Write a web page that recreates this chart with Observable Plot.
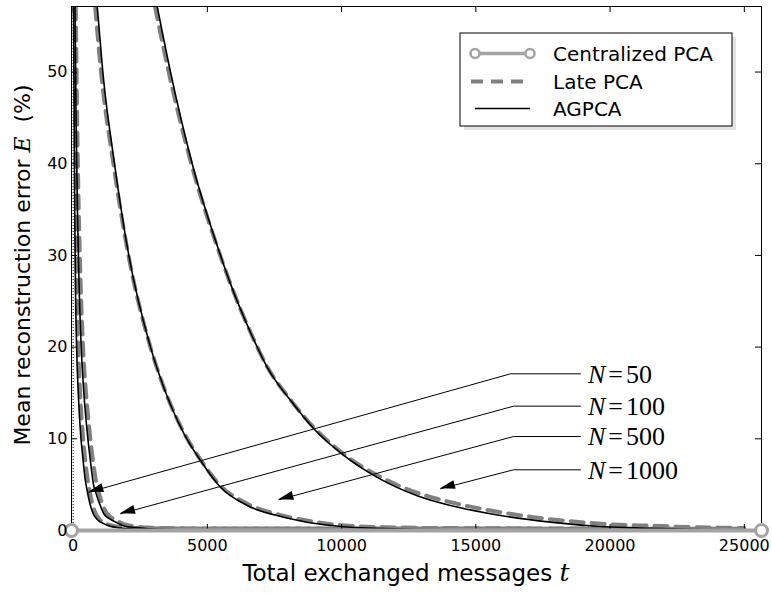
<!DOCTYPE html>
<html><head><meta charset="utf-8">
<script src="https://cdn.jsdelivr.net/npm/d3@7"></script>
<script src="https://cdn.jsdelivr.net/npm/@observablehq/plot@0.6"></script>
<style>body{margin:0;background:#fff;} svg{display:block}</style>
</head><body><div id="chart"></div>
<script>
// ---- axes ----
const xTicks = [0, 5000, 10000, 15000, 20000, 25000];
const yTicks = [0, 10, 20, 30, 40, 50];
const xDomain = [-60, 25640];
const yDomain = [0, 57.15];

// ---- series: [t, E] ----
const agpcaN50 = [[15,57.15],[40,45],[60,35],[90,26],[130,20],[200,14.5],[280,10.5],[360,8],[440,5.8],[520,4.4],[620,3.0],[740,1.9],[900,1.2],[1100,0.8],[1400,0.45],[1700,0.3],[2100,0.18],[2800,0.08],[4000,0.03],[25000,0.0]];
const agpcaN100 = [[70,57.15],[110,45],[160,35],[220,27],[300,20],[400,15],[500,11.5],[580,9.2],[660,7.2],[760,5.0],[870,3.9],[1000,2.8],[1150,1.8],[1350,1.3],[1600,0.9],[1900,0.5],[2300,0.32],[2700,0.22],[3500,0.1],[5000,0.04],[25000,0.0]];
const agpcaN500 = [[898,57.15],[1106,50],[1542,40],[2075,30],[2883,20],[3378,15.6],[4123,10.6],[4745,7.63],[5490,4.72],[6485,2.73],[7848,1.45],[9092,0.73],[10332,0.36],[11561,0.22],[14057,0.08],[25000,0.0]];
const agpcaN1000 = [[3132,57.15],[3628,50],[4436,40],[5490,30],[5863,26.9],[6608,21.6],[7230,17.8],[8098,14.2],[8965,11.1],[10083,8.2],[11327,5.8],[12817,3.8],[14057,2.73],[15919,1.64],[17781,0.91],[19644,0.44],[20873,0.29],[23368,0.11],[25000,0.04]];

const lateN50 = [[60,57.15],[80,45],[105,35],[140,26],[190,20],[270,14.5],[360,10.5],[440,8],[530,5.8],[610,4.4],[710,3.0],[830,1.9],[990,1.2],[1200,0.8],[1500,0.5],[1800,0.38],[2200,0.3],[2900,0.25],[4000,0.22],[25000,0.2]];
const lateN100 = [[100,57.15],[150,45],[210,35],[280,27],[370,20],[480,15],[590,11.5],[670,9.2],[760,7.2],[860,5.3],[970,4.0],[1100,2.8],[1250,1.9],[1450,1.35],[1700,0.95],[2000,0.6],[2400,0.42],[2800,0.32],[3600,0.26],[5000,0.22],[25000,0.2]];
const lateN500 = [[820,57.15],[1040,50],[1500,40],[2060,30],[2880,20],[3380,15.6],[4120,10.7],[4750,7.7],[5500,4.85],[6500,2.9],[7850,1.6],[9100,0.9],[10350,0.5],[11600,0.36],[14000,0.26],[18000,0.22],[25000,0.2]];
const lateN1000 = [[3050,57.15],[3560,50],[4400,40],[5480,30],[5860,26.9],[6610,21.6],[7240,17.8],[8110,14.2],[8980,11.2],[10100,8.3],[11340,6.0],[12830,4.1],[14057,3.09],[15547,2.18],[17148,1.45],[18527,1.01],[20128,0.65],[21618,0.51],[23108,0.36],[24598,0.29],[25000,0.27]];

const centralized = [[-60,0],[25640,0]];

// ---- annotations ----
const annotN = ["50", "100", "500", "1000"];
const annotLevel = [17.09, 13.56, 10.25, 6.62];
const annotElbowX = [16292, 16403, 16403, 16403];
const annotTipX = [585, 1765, 7662, 13684];
const annotTipY = [4.18, 1.82, 3.35, 4.55];
const annotLineEndX = 18898;
const annotTextX = 19197;

const legendItems = ["Centralized PCA", "Late PCA", "AGPCA"];

// ---- build tables ----
const toRows = (arr, N) => arr.map(([t, E]) => ({N, t, E}));
const agpcaRows = [...toRows(agpcaN50,50), ...toRows(agpcaN100,100), ...toRows(agpcaN500,500), ...toRows(agpcaN1000,1000)];
const lateRows = [...toRows(lateN50,50), ...toRows(lateN100,100), ...toRows(lateN500,500), ...toRows(lateN1000,1000)];
const centralRows = toRows(centralized, 0);
const annotRows = annotN.flatMap((n, i) => [
  {n, x: annotLineEndX, y: annotLevel[i]},
  {n, x: annotElbowX[i], y: annotLevel[i]},
  {n, x: annotTipX[i], y: annotTipY[i]}
]);

const CENT = "#a3a3a3", LATE = "#808080";

function arrowHeads(index, scales) {
  const g = d3.create("svg:g");
  annotN.forEach((n, i) => {
    const x1 = scales.x(annotElbowX[i]), y1 = scales.y(annotLevel[i]);
    const x2 = scales.x(annotTipX[i]), y2 = scales.y(annotTipY[i]);
    const a = Math.atan2(y2 - y1, x2 - x1);
    const L = 15, W = 4.5;
    const bx = x2 - L * Math.cos(a), by = y2 - L * Math.sin(a);
    const pts = [[x2, y2], [bx - W * Math.sin(a), by + W * Math.cos(a)], [bx + W * Math.sin(a), by - W * Math.cos(a)]];
    g.append("polygon").attr("points", pts.map(p => p.join(",")).join(" ")).attr("fill", "#000");
  });
  return g.node();
}

function annotText(index, scales) {
  const g = d3.create("svg:g").attr("font-family", "'Liberation Serif', serif").attr("font-size", 26).attr("text-anchor", "start");
  annotN.forEach((n, i) => {
    const t = g.append("text").attr("x", scales.x(annotTextX)).attr("y", scales.y(annotLevel[i])).attr("dy", "0.36em").attr("fill", "#000").attr("text-anchor", "start");
    t.append("tspan").attr("font-style", "italic").text("N");
    t.append("tspan").attr("dx", 3).text("=");
    t.append("tspan").attr("dx", 3).text(n);
  });
  return g.node();
}

function legend(index, scales, values, dims) {
  const g = d3.create("svg:g").attr("text-anchor", "start");
  const right = dims.width - dims.marginRight;
  const bx = right - 301, by = dims.marginTop + 27, bw = 272, bh = 93;
  g.append("rect").attr("x", bx + 4).attr("y", by + 4).attr("width", bw).attr("height", bh).attr("fill", "#e3e3e3");
  g.append("rect").attr("x", bx).attr("y", by).attr("width", bw).attr("height", bh).attr("fill", "#fff").attr("stroke", "#000").attr("stroke-width", 1);
  const rows = [20.5, 48.5, 75.5];
  const sx1 = bx + 15, sx2 = bx + 70;
  g.append("line").attr("x1", sx1).attr("x2", sx2).attr("y1", by + rows[0]).attr("y2", by + rows[0]).attr("stroke", CENT).attr("stroke-width", 3.5);
  [sx1, sx2].forEach(cx => g.append("circle").attr("cx", cx).attr("cy", by + rows[0]).attr("r", 4.5).attr("fill", "#fff").attr("stroke", CENT).attr("stroke-width", 2.5));
  g.append("line").attr("x1", sx1 - 4).attr("x2", sx2).attr("y1", by + rows[1]).attr("y2", by + rows[1]).attr("stroke", LATE).attr("stroke-width", 4).attr("stroke-dasharray", "12,8");
  g.append("line").attr("x1", sx1).attr("x2", sx2).attr("y1", by + rows[2]).attr("y2", by + rows[2]).attr("stroke", "#000").attr("stroke-width", 1.6);
  legendItems.forEach((s, i) => {
    g.append("text").attr("x", bx + 93).attr("y", by + rows[i]).attr("dy", "0.35em").attr("text-anchor", "start")
      .attr("font-family", "'DejaVu Sans', sans-serif").attr("font-size", 20).attr("fill", "#000").text(s);
  });
  return g.node();
}

function axisLabels(index, scales, values, dims) {
  const g = d3.create("svg:g").attr("font-family", "'DejaVu Sans', sans-serif").attr("font-size", 22).attr("fill", "#000").style("white-space", "pre");
  const fx = dims.marginLeft + (dims.width - dims.marginLeft - dims.marginRight) / 2;
  const fy = dims.marginTop + (dims.height - dims.marginTop - dims.marginBottom) / 2;
  const xl = g.append("text").attr("x", fx - 10).attr("y", dims.height - 13).attr("text-anchor", "middle").attr("font-size", 23);
  xl.append("tspan").text("Total exchanged messages ");
  xl.append("tspan").attr("font-family", "'DejaVu Serif', serif").attr("font-style", "italic").attr("font-size", 25).text("t");
  const yl = g.append("text").attr("transform", `translate(30,${fy - 3}) rotate(-90)`).attr("text-anchor", "middle");
  yl.append("tspan").text("Mean reconstruction error ");
  yl.append("tspan").attr("font-family", "'DejaVu Serif', serif").attr("font-style", "italic").text("E");
  yl.append("tspan").text("  (%)");
  return g.node();
}

const chart = Plot.plot({
  width: 772, height: 594,
  marginLeft: 71, marginRight: 11, marginTop: 6, marginBottom: 64,
  x: {domain: xDomain},
  y: {domain: yDomain},
  style: {fontFamily: "'DejaVu Sans', sans-serif", fontSize: "16px", color: "#000", background: "#fff", overflow: "visible"},
  marks: [
    Plot.ruleX([0], {stroke: "#000", strokeWidth: 1, strokeDasharray: "1,2"}),
    Plot.line(lateRows, {x: "t", y: "E", z: "N", stroke: LATE, strokeWidth: 4, strokeDasharray: "13,8", curve: "monotone-x", clip: true}),
    Plot.line(agpcaRows, {x: "t", y: "E", z: "N", stroke: "#000", strokeWidth: 1.6, curve: "monotone-x", clip: true}),
    Plot.line(annotRows, {x: "x", y: "y", z: "n", stroke: "#000", strokeWidth: 1}),
    arrowHeads,
    annotText,
    Plot.frame({stroke: "#000", strokeWidth: 1}),
    Plot.tickX(xTicks, {x: d => d, insetTop: 518, stroke: "#000"}),
    Plot.tickX(xTicks, {x: d => d, insetBottom: 518, stroke: "#000"}),
    Plot.tickY(yTicks, {y: d => d, insetRight: 684, stroke: "#000"}),
    Plot.tickY(yTicks, {y: d => d, insetLeft: 684, stroke: "#000"}),
    Plot.line(centralRows, {x: "t", y: "E", stroke: CENT, strokeWidth: 4}),
    Plot.dot(centralRows, {x: "t", y: "E", r: 6, fill: "#fff", stroke: CENT, strokeWidth: 3}),
    Plot.axisX({ticks: xTicks, tickSize: 0, tickPadding: 9, tickFormat: d => String(d), label: null, fontSize: 16}),
    Plot.axisY({ticks: yTicks, tickSize: 0, tickPadding: 4, tickFormat: d => String(d), label: null, fontSize: 16}),
    legend,
    axisLabels
  ]
});
document.getElementById("chart").appendChild(chart);
</script>
</body></html>
